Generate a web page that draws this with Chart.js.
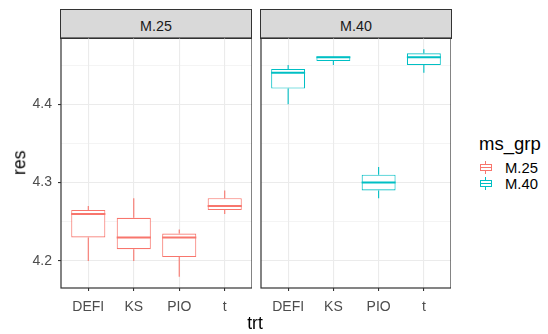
<!DOCTYPE html>
<html>
<head>
<meta charset="utf-8">
<script src="https://cdn.jsdelivr.net/npm/chart.js@4.4.1/dist/chart.umd.min.js"></script>
<style>
  body { margin: 0; width: 548px; height: 334px; background: #fff; position: relative; overflow: hidden;
         font-family: "Liberation Sans", Arial, sans-serif; }
  canvas { position: absolute; }
  .strip { position: absolute; top: 9px; height: 30px; background: #D9D9D9; border: 1px solid #333;
           box-sizing: border-box; }
  .txt { position: absolute; white-space: nowrap; }
  .key { position: absolute; width: 17px; height: 17px; }
</style>
</head>
<body>

<div class="strip" style="left:60px; width:192px;"></div>
<div class="strip" style="left:260px; width:192px;"></div>
<div class="txt" style="left:60px; width:192px; top:18.5px; text-align:center; font-size:14.3px; line-height:14.3px; color:#1A1A1A;">M.25</div>
<div class="txt" style="left:260px; width:192px; top:18.5px; text-align:center; font-size:14.3px; line-height:14.3px; color:#1A1A1A;">M.40</div>

<canvas id="panel25" width="252" height="300" style="left:0; top:30px; width:252px; height:300px;"></canvas>
<canvas id="panel40" width="199" height="300" style="left:252px; top:30px; width:199px; height:300px;"></canvas>

<div class="txt" style="left:-10px; top:154px; width:60px; text-align:center; font-size:17.5px; line-height:17.5px; transform:rotate(-90deg);">res</div>
<div class="txt" style="left:225px; top:315px; width:60px; text-align:center; font-size:17.5px; line-height:17.5px;">trt</div>

<div class="txt" style="left:479px; top:135px; font-size:18.5px; line-height:18.5px;">ms_grp</div>
<div id="legend"></div>

<script>
/* ============================
   DATA
   ============================ */

const trt = ["DEFI", "KS", "PIO", "t"];
const groups = ["M.25", "M.40"];
const groupColors = ["#F8766D", "#00BFC4"];

// ms_grp M.25
const low25  = [4.200, 4.200, 4.180, 4.260];
const q1_25  = [4.230, 4.215, 4.205, 4.265];
const med25  = [4.260, 4.230, 4.230, 4.270];
const q3_25  = [4.265, 4.255, 4.235, 4.280];
const high25 = [4.270, 4.280, 4.240, 4.290];

// ms_grp M.40
const low40  = [4.400, 4.450, 4.280, 4.440];
const q1_40  = [4.420, 4.455, 4.290, 4.450];
const med40  = [4.440, 4.460, 4.300, 4.460];
const q3_40  = [4.445, 4.461, 4.310, 4.465];
const high40 = [4.450, 4.461, 4.320, 4.470];

const yTicks = [4.2, 4.3, 4.4];

/* ============================
   SHARED SCALE LIMITS (ggplot 5% expansion)
   ============================ */

const allVals = [].concat(low25, high25, low40, high40);
const dataMin = Math.min(...allVals);
const dataMax = Math.max(...allVals);
const pad = (dataMax - dataMin) * 0.05;
const yMin = dataMin - pad;
const yMax = dataMax + pad;

const GRID = "#EBEBEB";
const DARK = "#333333";
const TICKTXT = "#4D4D4D";

function isMajor(v) {
  return yTicks.some(t => Math.abs(t - v) < 1e-6);
}

/* ============================
   PLUGINS
   ============================ */

// whiskers + median line, placed through the chart's own scales
const boxExtras = {
  id: "boxExtras",
  afterDatasetsDraw(chart, args, opts) {
    const ctx = chart.ctx;
    const xs = chart.scales.x, ys = chart.scales.y;
    const meta = chart.getDatasetMeta(0);
    ctx.save();
    ctx.strokeStyle = opts.color;
    opts.low.forEach((lo, i) => {
      const x = xs.getPixelForValue(i + 1);
      const w = meta.data[i].width;
      ctx.lineWidth = 1.1;
      ctx.beginPath();
      ctx.moveTo(x, ys.getPixelForValue(lo));
      ctx.lineTo(x, ys.getPixelForValue(opts.q1[i]));
      ctx.moveTo(x, ys.getPixelForValue(opts.q3[i]));
      ctx.lineTo(x, ys.getPixelForValue(opts.high[i]));
      ctx.stroke();
      ctx.lineWidth = 2;
      ctx.beginPath();
      const ym = ys.getPixelForValue(opts.med[i]);
      ctx.moveTo(x - w / 2, ym);
      ctx.lineTo(x + w / 2, ym);
      ctx.stroke();
    });
    ctx.restore();
  }
};

const panelBorder = {
  id: "panelBorder",
  afterDraw(chart) {
    const a = chart.chartArea;
    const ctx = chart.ctx;
    ctx.save();
    ctx.strokeStyle = DARK;
    ctx.lineWidth = 1.2;
    ctx.strokeRect(a.left, a.top, a.right - a.left, a.bottom - a.top);
    ctx.restore();
  }
};

/* ============================
   ONE FACET PANEL
   ============================ */

function makePanel(id, low, q1, med, q3, high, color, showY) {
  return new Chart(document.getElementById(id), {
    type: "bar",
    data: {
      datasets: [{
        data: trt.map((_, i) => ({ x: i + 1, y: [q1[i], q3[i]] })),
        backgroundColor: "#FFFFFF",
        borderColor: color,
        borderWidth: 1.1,
        borderSkipped: false,
        categoryPercentage: 1,
        barPercentage: 0.75
      }]
    },
    options: {
      responsive: false,
      animation: false,
      events: [],
      layout: { padding: { top: 8, left: showY ? 0 : 9, right: 0, bottom: 0 } },
      plugins: {
        legend: { display: false },
        tooltip: { enabled: false },
        boxExtras: { low, q1, med, q3, high, color }
      },
      scales: {
        x: {
          type: "linear",
          min: 0.4,
          max: 4.6,
          offset: false,
          afterFit: s => { s.height = 42; s.paddingLeft = 0; s.paddingRight = 0; },
          grid: { color: GRID, lineWidth: 1.1, tickColor: DARK, tickLength: 3, offset: false },
          border: { display: false },
          ticks: {
            stepSize: 1,
            includeBounds: false,
            autoSkip: false,
            maxRotation: 0,
            padding: 8,
            color: TICKTXT,
            font: { family: "Liberation Sans", size: 14 },
            callback: v => trt[v - 1]
          }
        },
        y: {
          type: "linear",
          min: yMin,
          max: yMax,
          afterFit: s => { s.width = showY ? 61 : 0; s.paddingTop = 0; s.paddingBottom = 0; },
          grid: {
            color: GRID,
            lineWidth: c => isMajor(c.tick.value) ? 1.1 : 0.55,
            tickColor: c => (showY && isMajor(c.tick.value)) ? DARK : "rgba(0,0,0,0)",
            tickLength: showY ? 3 : 0,
            drawTicks: showY
          },
          border: { display: false },
          ticks: {
            display: showY,
            stepSize: 0.05,
            includeBounds: false,
            padding: 6,
            color: TICKTXT,
            font: { family: "Liberation Sans", size: 14 },
            callback: v => isMajor(v) ? v.toFixed(1) : ""
          }
        }
      }
    },
    plugins: [boxExtras, panelBorder]
  });
}

makePanel("panel25", low25, q1_25, med25, q3_25, high25, groupColors[0], true);
makePanel("panel40", low40, q1_40, med40, q3_40, high40, groupColors[1], false);

/* ============================
   LEGEND (boxplot keys)
   ============================ */

const legend = document.getElementById("legend");
groups.forEach((g, i) => {
  const cy = 167.3 + i * 16.3;
  const c = groupColors[i];
  legend.insertAdjacentHTML("beforeend",
    `<div class="key" style="left:477px; top:${cy - 8.5}px;">
       <div style="position:absolute; left:8px; top:2px; width:1px; height:13px; background:${c};"></div>
       <div style="position:absolute; left:2.5px; top:5px; width:12px; height:7px; border:1px solid ${c}; box-sizing:border-box; background:#fff;"></div>
       <div style="position:absolute; left:2.5px; top:8px; width:12px; height:1px; background:${c};"></div>
     </div>
     <div class="txt" style="left:505px; top:${cy - 6.8}px; font-size:14.8px; line-height:14.8px; color:#000;">${g}</div>`);
});
</script>
</body>
</html>
